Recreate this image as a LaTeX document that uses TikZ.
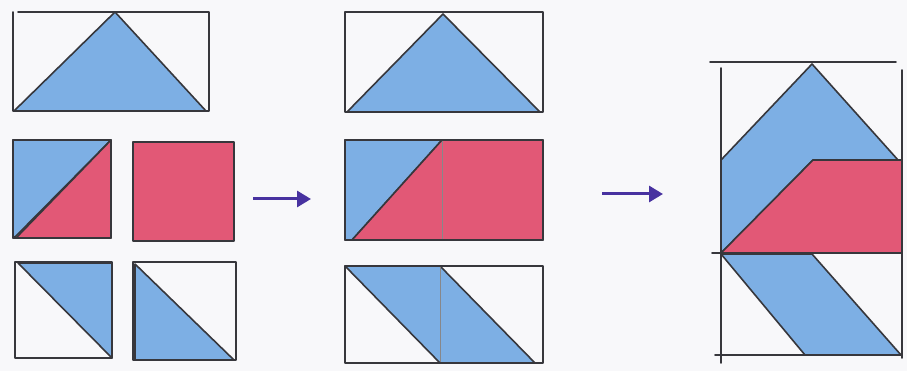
\documentclass[tikz,border=0pt]{standalone}
\usetikzlibrary{arrows.meta}
\definecolor{bgc}{RGB}{248,248,250}
\definecolor{penc}{RGB}{55,55,60}
\definecolor{blueF}{RGB}{125,175,228}
\definecolor{redF}{RGB}{226,88,118}
\definecolor{arrc}{RGB}{72,50,160}
\begin{document}
\begin{tikzpicture}[x=1pt,y=-1pt,
  pen/.style={draw=penc,line width=1.6pt,line cap=round,line join=round},
  seam/.style={draw=penc!60,line width=0.6pt},
  bluef/.style={fill=blueF},
  redf/.style={fill=redF},
  bigarrow/.style={draw=arrc,line width=3pt,-{Triangle[length=14pt,width=16pt]}}]
\useasboundingbox (0,0) rectangle (907,371);
\fill[bgc] (0,0) rectangle (907,371);
% ---------- left group ----------
\filldraw[pen,bluef] (14,111) -- (115,12) -- (206,111) -- cycle;
\draw[pen] (13,12) -- (13,111) -- (209,111) -- (209,12) -- (18,12);
\filldraw[pen,bluef] (13,140) -- (111,140) -- (16,236) -- (13,238) -- cycle;
\filldraw[pen,redf] (111,140) -- (111,238) -- (16,238) -- cycle;
\draw[pen] (13,140) rectangle (111,238);
\filldraw[pen,redf] (133,142) rectangle (234,241);
\filldraw[pen,bluef] (18,263) -- (112,263) -- (112,358) -- cycle;
\draw[pen] (15,262) rectangle (112,358);
\filldraw[pen,bluef] (135,264) -- (135,360) -- (234,360) -- cycle;
\draw[pen] (133,262) rectangle (236,360);
% arrow 1
\draw[bigarrow] (253,199) -- (311,199);
% ---------- middle group ----------
\filldraw[pen,bluef] (347,112) -- (443,14) -- (540,112) -- cycle;
\draw[pen] (345,12) rectangle (543,112);
\filldraw[pen,bluef] (345,140) -- (442,140) -- (352,240) -- (345,240) -- cycle;
\filldraw[pen,redf] (442,140) -- (543,140) -- (543,240) -- (352,240) -- cycle;
\draw[seam] (442,140) -- (442,240);
\draw[pen] (345,140) rectangle (543,240);
\filldraw[pen,bluef] (345,266) -- (440,266) -- (535,363) -- (440,363) -- cycle;
\draw[seam] (440,266) -- (440,363);
\draw[pen] (345,266) rectangle (543,363);
% arrow 2
\draw[bigarrow] (602,194) -- (663,194);
% ---------- right group ----------
\filldraw[pen,bluef] (812,64) -- (898,160) -- (813,160) -- (721,253) -- (721,160) -- cycle;
\filldraw[pen,redf] (813,160) -- (902,160) -- (902,253) -- (721,253) -- cycle;
\filldraw[pen,bluef] (721,254) -- (812,254) -- (901,355) -- (805,355) -- cycle;
\draw[pen] (710,62) -- (896,62);
\draw[pen] (721,68) -- (721,363);
\draw[pen] (902,70) -- (902,358);
\draw[pen] (712,253) -- (902,253);
\draw[pen] (715,355) -- (902,355);
\end{tikzpicture}
\end{document}
